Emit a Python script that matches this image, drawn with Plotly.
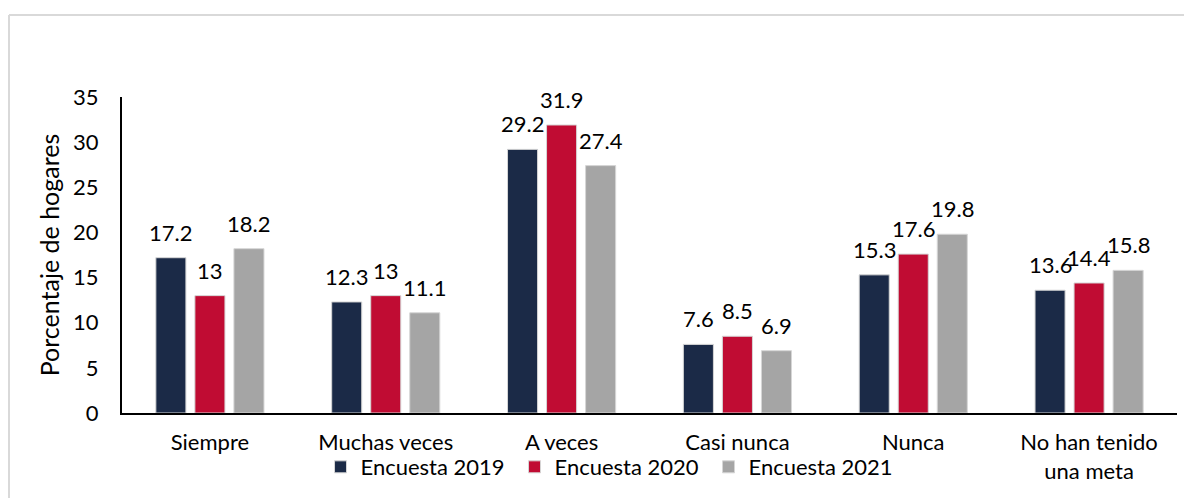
import plotly.graph_objects as go

categories = ["Siempre", "Muchas veces", "A veces", "Casi nunca", "Nunca", "No han tenido<br>una meta"]
series_names = ["Encuesta 2019", "Encuesta 2020", "Encuesta 2021"]
values_2019 = [17.2, 12.3, 29.2, 7.6, 15.3, 13.6]
values_2020 = [13, 13, 31.9, 8.5, 17.6, 14.4]
values_2021 = [18.2, 11.1, 27.4, 6.9, 19.8, 15.8]
y_ticks = [0, 5, 10, 15, 20, 25, 30, 35]

series_values = [values_2019, values_2020, values_2021]
colors = ["#1B2A47", "#C00C33", "#A5A5A5"]
FONT = "Lato"
FS = 22

fig = go.Figure()
for name, vals, col in zip(series_names, series_values, colors):
    fig.add_trace(go.Bar(
        x=categories, y=vals, name=name,
        marker=dict(color=col, line=dict(color="#D6D6D6", width=1)),
        hoverinfo="x+y+name",
    ))

# value labels above bars
xshifts = [-39, 0, 39]
annotations = []
for vals, xs in zip(series_values, xshifts):
    for c, v in zip(categories, vals):
        annotations.append(dict(
            x=c, y=v, xref="x", yref="y", text=f"{v:g}", showarrow=False,
            xshift=xs, yshift=10, yanchor="bottom", xanchor="center",
            font=dict(family=FONT, size=FS, color="#000000"),
        ))

fig.update_layout(
    width=1184, height=490,
    margin=dict(l=114, r=15, t=89, b=85, autoexpand=False),
    paper_bgcolor="white", plot_bgcolor="white",
    barmode="group", bargap=0.334, bargroupgap=0.23,
    font=dict(family=FONT, size=FS, color="#000000"),
    showlegend=True,
    legend=dict(
        orientation="h", x=0.464, xanchor="center", y=-0.171, yanchor="middle",
        font=dict(family=FONT, size=FS, color="#000000"),
        entrywidth=149, bgcolor="rgba(0,0,0,0)",
    ),
    annotations=annotations,
    shapes=[
        dict(type="line", xref="paper", yref="paper", x0=-0.1071, x1=1.03, y0=1.2595, y1=1.2595,
             line=dict(color="#D9D9D9", width=2)),
        dict(type="line", xref="paper", yref="paper", x0=-0.1071, x1=-0.1071, y0=1.2595, y1=-0.3,
             line=dict(color="#D9D9D9", width=2)),
    ],
)
fig.update_xaxes(
    showline=True, linecolor="#000000", linewidth=2, showgrid=False, ticks="",
    automargin=False, ticklabelstandoff=9,
    tickfont=dict(family=FONT, size=FS, color="#000000"),
)
fig.update_yaxes(
    range=[0, 35], tickvals=y_ticks, showline=True, linecolor="#000000", linewidth=2,
    showgrid=False, zeroline=False, ticks="", ticklabelstandoff=17, automargin=False,
    tickfont=dict(family=FONT, size=FS, color="#000000"),
    title=dict(text="Porcentaje de hogares", standoff=6, font=dict(family=FONT, size=25, color="#000000")),
)

fig.write_html("out.html")
